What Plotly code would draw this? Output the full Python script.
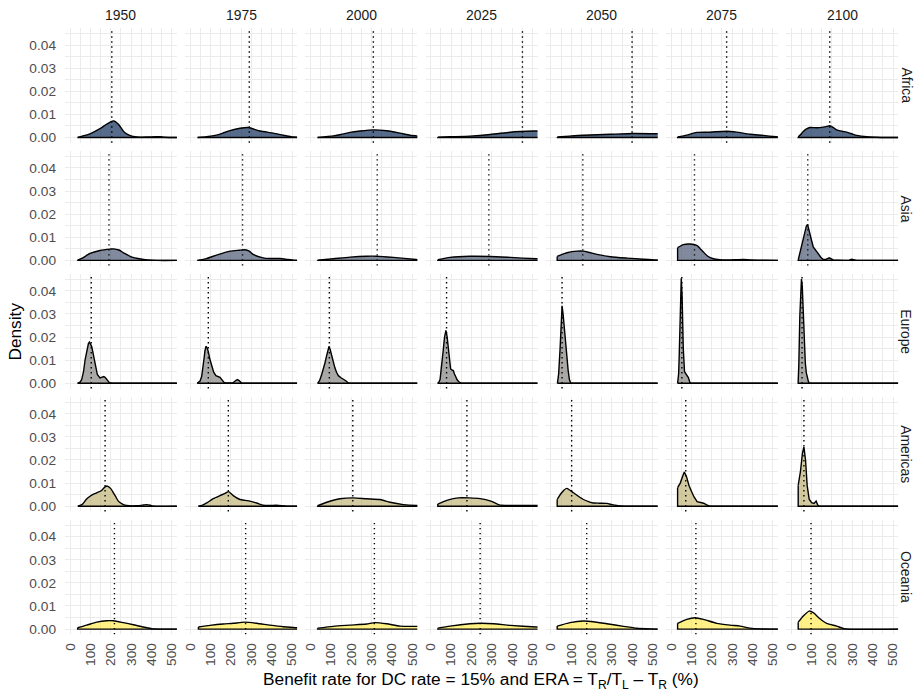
import plotly.graph_objects as go

YEARS = ["1950", "1975", "2000", "2025", "2050", "2075", "2100"]
REGIONS = ["Africa", "Asia", "Europe", "Americas", "Oceania"]
FILLS = ["rgba(0,32,77,0.66)", "rgba(65,77,107,0.66)", "rgba(124,123,120,0.66)",
         "rgba(188,175,111,0.66)", "rgba(255,234,70,0.66)"]

# ---- Africa ----
africa_x = [
    [37, 60, 98, 147, 175, 197, 214, 238, 263, 285, 304, 330, 380, 420, 442, 465, 525],
    [36, 80, 129, 160, 195, 244, 285, 343, 408, 457, 507, 525],
    [35, 112, 150, 194, 244, 309, 375, 440, 489, 530],
    [35, 95, 193, 293, 391, 440, 506, 530],
    [32, 90, 160, 293, 406, 517, 530],
    [32, 77, 126, 191, 273, 322, 388, 453, 516, 530],
    [34, 45, 59, 75, 92, 125, 157, 175, 190, 205, 223, 250, 272, 300, 322, 371, 420, 450, 525],
]
africa_y = [
    [0, 0.0006, 0.0016, 0.0038, 0.0055, 0.0067, 0.0072, 0.0057, 0.0026, 0.0012, 0.0006, 0.0002, 0.0002, 0.0003, 0.0004, 0.0001, 0],
    [0, 0.0003, 0.001, 0.0019, 0.003, 0.004, 0.0043, 0.0028, 0.0019, 0.001, 0.0002, 0.0001],
    [0, 0.0007, 0.0013, 0.0022, 0.0028, 0.0033, 0.0029, 0.0019, 0.001, 0.0006],
    [0.0001, 0.0003, 0.0006, 0.0013, 0.0023, 0.0026, 0.0028, 0.0028],
    [0.0002, 0.0006, 0.001, 0.0014, 0.0017, 0.0016, 0.0016],
    [0.0002, 0.001, 0.0022, 0.0023, 0.0027, 0.0023, 0.0014, 0.0009, 0.0003, 0.0002],
    [0.0002, 0.0012, 0.0026, 0.0037, 0.0043, 0.0042, 0.0045, 0.0048, 0.0051, 0.0044, 0.0033, 0.0027, 0.0023, 0.0015, 0.0009, 0.0003, 0.0001, 0, 0],
]
africa_med = [205, 290, 309, 451, 399, 273, 189]

# ---- Asia ----
asia_x = [
    [37, 60, 98, 147, 197, 214, 240, 263, 304, 340, 382, 430, 525],
    [35, 80, 129, 195, 240, 268, 290, 309, 358, 391, 440, 480, 507, 525],
    [35, 112, 194, 276, 325, 407, 519, 530],
    [35, 95, 193, 293, 391, 519, 530],
    [31, 55, 79, 128, 160, 190, 226, 293, 374, 456, 517, 530],
    [32, 60, 93, 126, 142, 159, 180, 208, 240, 273, 320, 355, 390, 453, 525],
    [34, 42, 50, 58, 67, 74, 80, 86, 92, 100, 108, 120, 133, 145, 157, 172, 187, 197, 206, 260, 285, 296, 307, 321, 525],
]
asia_y = [
    [0.0001, 0.001, 0.003, 0.0043, 0.0049, 0.005, 0.0045, 0.0033, 0.0014, 0.0007, 0.0002, 0, 0],
    [0, 0.0008, 0.0023, 0.004, 0.0044, 0.0046, 0.004, 0.0026, 0.0011, 0.0008, 0.0008, 0.0004, 0.0001, 0],
    [0.0001, 0.0007, 0.0014, 0.0018, 0.0018, 0.0013, 0.0004, 0.0003],
    [0.0003, 0.0013, 0.0018, 0.0017, 0.0013, 0.0007, 0.0007],
    [0.0017, 0.0026, 0.0033, 0.004, 0.004, 0.0034, 0.0026, 0.0016, 0.001, 0.0005, 0.0002, 0.0002],
    [0.0055, 0.0068, 0.0071, 0.0065, 0.0052, 0.0036, 0.0018, 0.0007, 0.0003, 0.0002, 0.0003, 0.0004, 0.0002, 0.0001, 0],
    [0.0002, 0.003, 0.0065, 0.0098, 0.013, 0.0148, 0.0156, 0.0138, 0.0115, 0.0085, 0.0058, 0.0042, 0.0029, 0.0014, 0.0004, 0.0005, 0.0011, 0.0006, 0.0002, 0, 0.0001, 0.0005, 0.0002, 0, 0],
]
asia_med = [191, 257, 328, 286, 157, 115, 81]

# ---- Europe ----
europe_x = [
    [37, 50, 57, 66, 74, 80, 85, 90, 95, 100, 106, 112, 119, 127, 134, 147, 157, 166, 173, 180, 193, 210, 525],
    [34, 48, 56, 62, 67, 72, 77, 82, 88, 96, 105, 115, 126, 135, 146, 156, 166, 180, 195, 210, 222, 231, 240, 252, 265, 525],
    [35, 45, 55, 63, 71, 80, 86, 91, 97, 104, 112, 120, 128, 137, 150, 161, 175, 186, 200, 525],
    [34, 40, 46, 54, 62, 68, 75, 81, 87, 93, 98, 104, 111, 117, 124, 130, 137, 143, 150, 525],
    [32, 38, 45, 50, 55, 60, 65, 71, 78, 85, 91, 98, 525],
    [32, 37, 40, 43, 46, 50, 54, 57, 60, 66, 75, 85, 92, 97, 525],
    [34, 37, 42, 46, 50, 54, 59, 64, 69, 74, 79, 84, 89, 525],
]
europe_y = [
    [0, 0.0006, 0.0016, 0.005, 0.0103, 0.0135, 0.016, 0.0172, 0.0178, 0.0172, 0.016, 0.0135, 0.0103, 0.0065, 0.0038, 0.0023, 0.0025, 0.0029, 0.0025, 0.0016, 0.0003, 0, 0],
    [0, 0.001, 0.003, 0.006, 0.0103, 0.014, 0.016, 0.0155, 0.0139, 0.0105, 0.0074, 0.0048, 0.0033, 0.0029, 0.0026, 0.0015, 0.0004, 0.0001, 0, 0.0002, 0.0011, 0.0016, 0.0012, 0.0001, 0, 0],
    [0, 0.0012, 0.0038, 0.006, 0.0088, 0.0122, 0.0148, 0.016, 0.0145, 0.0117, 0.009, 0.0067, 0.0048, 0.0033, 0.0024, 0.0019, 0.001, 0.0001, 0, 0],
    [0, 0.0004, 0.0016, 0.007, 0.0146, 0.02, 0.0229, 0.02, 0.0146, 0.009, 0.0062, 0.0058, 0.0055, 0.004, 0.0025, 0.0015, 0.0008, 0.0003, 0, 0],
    [0, 0.004, 0.0146, 0.027, 0.0335, 0.03, 0.0248, 0.018, 0.0117, 0.0055, 0.0016, 0, 0],
    [0, 0.004, 0.012, 0.025, 0.038, 0.0454, 0.038, 0.025, 0.015, 0.005, 0.0038, 0.0025, 0.0005, 0, 0],
    [0.001, 0.008, 0.029, 0.042, 0.0451, 0.042, 0.029, 0.017, 0.0088, 0.0045, 0.0023, 0.0008, 0, 0],
]
europe_med = [104, 88.5, 92.6, 78, 55, 53, 53]

# ---- Americas ----
americas_x = [
    [38, 60, 80, 98, 115, 131, 155, 172, 183, 200, 213, 225, 237, 260, 278, 330, 360, 376, 395, 409, 525],
    [40, 60, 81, 113, 146, 170, 188, 211, 244, 270, 293, 326, 358, 390, 424, 474, 525],
    [35, 80, 145, 211, 276, 342, 391, 456, 519, 530],
    [35, 83, 136, 189, 243, 296, 336, 389, 514, 530],
    [31, 42, 53, 65, 78, 92, 111, 135, 160, 185, 209, 240, 275, 300, 324, 360, 525],
    [32, 45, 55, 65, 75, 88, 100, 113, 128, 145, 160, 175, 190, 525],
    [34, 45, 55, 62, 70, 78, 88, 100, 112, 122, 130, 138, 525],
]
americas_y = [
    [0, 0.0008, 0.003, 0.0043, 0.0052, 0.0058, 0.0068, 0.0084, 0.0087, 0.0076, 0.0058, 0.004, 0.0022, 0.0008, 0.0003, 0.0002, 0.0005, 0.0007, 0.0004, 0, 0],
    [0, 0.0005, 0.0014, 0.0033, 0.0046, 0.0055, 0.0063, 0.0046, 0.0029, 0.0025, 0.0022, 0.0014, 0.0004, 0.0003, 0.0004, 0, 0],
    [0.0002, 0.0017, 0.0032, 0.0036, 0.0032, 0.0029, 0.0017, 0.0007, 0.0003, 0.0003],
    [0.0009, 0.0026, 0.0036, 0.0036, 0.0033, 0.0022, 0.0006, 0.0003, 0.0003, 0.0003],
    [0.0029, 0.0045, 0.0058, 0.007, 0.0077, 0.007, 0.0058, 0.0043, 0.0029, 0.002, 0.0014, 0.0013, 0.0012, 0.0007, 0.0003, 0, 0],
    [0.008, 0.010, 0.0125, 0.0148, 0.013, 0.009, 0.0065, 0.004, 0.002, 0.0016, 0.0013, 0.0006, 0, 0],
    [0.009, 0.015, 0.023, 0.0257, 0.02, 0.009, 0.003, 0.0015, 0.0012, 0.0022, 0.0005, 0, 0],
]
americas_med = [172, 187, 208, 178, 102, 72, 62]

# ---- Oceania ----
oceania_x = [
    [37, 82, 131, 180, 213, 262, 311, 360, 409, 440, 525],
    [40, 97, 162, 211, 268, 326, 391, 457, 519, 530],
    [35, 112, 194, 276, 317, 374, 440, 519, 530],
    [35, 95, 193, 243, 309, 391, 519, 530],
    [31, 94, 160, 209, 275, 357, 422, 488, 525],
    [32, 77, 118, 159, 224, 290, 339, 388, 437, 525],
    [34, 59, 88, 108, 141, 174, 223, 264, 525],
]
oceania_y = [
    [0.0006, 0.0017, 0.003, 0.0036, 0.0036, 0.0028, 0.0019, 0.0009, 0.0001, 0, 0],
    [0.0009, 0.0016, 0.0022, 0.0025, 0.003, 0.0025, 0.0017, 0.001, 0.0006, 0.0006],
    [0.0004, 0.0012, 0.0017, 0.0022, 0.0028, 0.0023, 0.0013, 0.0012, 0.0012],
    [0.0004, 0.0013, 0.0023, 0.0025, 0.0023, 0.0016, 0.0009, 0.0009],
    [0.0013, 0.0028, 0.0035, 0.0032, 0.0023, 0.0012, 0.0004, 0.0001, 0],
    [0.0025, 0.0042, 0.0049, 0.0042, 0.0025, 0.0017, 0.0013, 0.0004, 0.0001, 0],
    [0.003, 0.0057, 0.0078, 0.0071, 0.0045, 0.0025, 0.0013, 0.0001, 0],
]
oceania_med = [218, 272, 314, 243, 176, 122, 97]

ALL_X = [africa_x, asia_x, europe_x, americas_x, oceania_x]
ALL_Y = [africa_y, asia_y, europe_y, americas_y, oceania_y]
ALL_MED = [africa_med, asia_med, europe_med, americas_med, oceania_med]

X_TICKS = [0, 100, 200, 300, 400, 500]
Y_TICKS = [0.00, 0.01, 0.02, 0.03, 0.04]
X_RANGE = [-25, 525]
Y_RANGE = [-0.00225, 0.04725]

W, H = 915, 693
FONT = "Liberation Sans"
GRID = "#ebebeb"
TICK_FONT = dict(family=FONT, size=13.7, color="#4d4d4d")
STRIP_FONT = dict(family=FONT, size=13.9, color="#1a1a1a")
TITLE_FONT = dict(family=FONT, size=17.3, color="black")

fig = go.Figure()
layout = dict(
    width=W, height=H, margin=dict(l=0, r=0, t=0, b=0),
    paper_bgcolor="white", plot_bgcolor="white", showlegend=False,
    font=dict(family=FONT, color="#4d4d4d", size=12),
)
shapes = []
annotations = []

PL, PW, PSTEP = 65.0, 111.9, 120.2
PT, PH, RSTEP = 28.3, 114.4, 122.9

for r in range(5):
    for c in range(7):
        n = r * 7 + c + 1
        xa = "x" if n == 1 else f"x{n}"
        ya = "y" if n == 1 else f"y{n}"
        left = PL + c * PSTEP
        top = PT + r * RSTEP
        layout["xaxis" if n == 1 else f"xaxis{n}"] = dict(
            domain=[left / W, (left + PW) / W], range=X_RANGE, anchor=ya,
            tickvals=X_TICKS, ticktext=[str(v) for v in X_TICKS],
            showticklabels=(r == 4), tickangle=-90, ticks="",
            ticklabelstandoff=5, tickfont=TICK_FONT,
            showgrid=True, gridcolor=GRID, gridwidth=1.3, zeroline=False,
            showline=False, automargin=False,
            minor=dict(dtick=50, tick0=0, showgrid=True, gridcolor=GRID, gridwidth=0.8),
            fixedrange=True,
        )
        layout["yaxis" if n == 1 else f"yaxis{n}"] = dict(
            domain=[1 - (top + PH) / H, 1 - top / H], range=Y_RANGE, anchor=xa,
            tickvals=Y_TICKS, ticktext=[f"{v:.2f}" for v in Y_TICKS],
            showticklabels=(c == 0), ticks="",
            ticklabelstandoff=8, tickfont=TICK_FONT,
            showgrid=True, gridcolor=GRID, gridwidth=1.3, zeroline=False,
            showline=False, automargin=False,
            minor=dict(dtick=0.005, tick0=0, showgrid=True, gridcolor=GRID, gridwidth=0.8),
            fixedrange=True,
        )
        xs = ALL_X[r][c]
        ys = ALL_Y[r][c]
        sharp = max(ys) > 0.012
        line = dict(color="black", width=1.4, shape="linear") if sharp else \
            dict(color="black", width=1.4, shape="spline", smoothing=0.6)
        fig.add_trace(go.Scatter(
            x=xs, y=ys, xaxis=xa, yaxis=ya, mode="lines", line=line,
            fill="tozeroy", fillcolor=FILLS[r], hoverinfo="skip",
        ))
        # left edge + baseline of the density outline
        fig.add_trace(go.Scatter(
            x=[xs[-1] + 15, xs[0], xs[0]], y=[0, 0, ys[0]], xaxis=xa, yaxis=ya,
            mode="lines", line=dict(color="black", width=1.4), hoverinfo="skip",
        ))
        shapes.append(dict(
            type="line", xref=xa, yref=f"{ya} domain",
            x0=ALL_MED[r][c], x1=ALL_MED[r][c], y0=0, y1=1,
            line=dict(color="black", width=1.4, dash="1.4px,3.6px"), layer="above",
        ))
        if r == 0:
            annotations.append(dict(
                text=YEARS[c], x=(left + PW / 2) / W, y=1 - 15 / H,
                xref="paper", yref="paper", showarrow=False, font=STRIP_FONT,
                xanchor="center", yanchor="middle",
            ))
    annotations.append(dict(
        text=REGIONS[r], x=906 / W, y=1 - (PT + r * RSTEP + PH / 2) / H,
        xref="paper", yref="paper", showarrow=False, textangle=90, font=STRIP_FONT,
        xanchor="center", yanchor="middle",
    ))

annotations.append(dict(
    text="Density", x=15 / W, y=1 - 331.6 / H, xref="paper", yref="paper",
    showarrow=False, textangle=-90, font=TITLE_FONT,
    xanchor="center", yanchor="middle",
))
annotations.append(dict(
    text="Benefit rate for DC rate = 15% and ERA = T<sub>R</sub>/T<sub>L</sub> – T<sub>R</sub> (%)",
    x=481 / W, y=1 - 680 / H, xref="paper", yref="paper", showarrow=False,
    font=TITLE_FONT, xanchor="center", yanchor="middle",
))

layout["shapes"] = shapes
layout["annotations"] = annotations
fig.update_layout(**layout)
fig.write_html("out.html")
